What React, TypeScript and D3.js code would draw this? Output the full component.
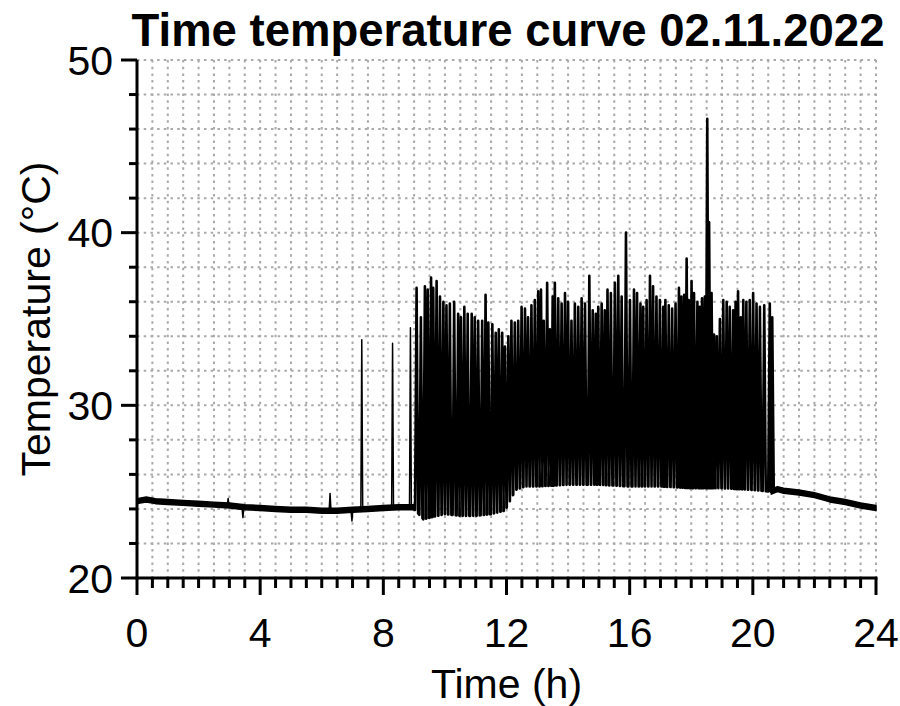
import React from "react";
import * as d3 from "d3";

// ---------- data ----------
const xTicks = [0, 4, 8, 12, 16, 20, 24];
const yTicks = [20, 30, 40, 50];
const titleText = "Time temperature curve 02.11.2022";
const xLabel = "Time (h)";
const yLabel = "Temperature (°C)";

// quiet (non-cycling) periods: centre of the noisy band
const quietPreTimes = [0, 0.3, 0.6, 1, 1.5, 2, 2.5, 3, 3.5, 4, 4.5, 5, 5.5, 6, 6.5, 7, 7.5, 8, 8.5, 9.0];
const quietPreTemps = [24.45, 24.55, 24.45, 24.4, 24.35, 24.3, 24.25, 24.2, 24.1, 24.05, 24.0, 23.95, 23.95, 23.9, 23.9, 23.95, 24.0, 24.05, 24.1, 24.1];
const quietPostTimes = [20.6, 20.8, 21, 21.5, 22, 22.5, 23, 23.5, 24];
const quietPostTemps = [25.0, 25.15, 25.05, 24.95, 24.8, 24.55, 24.4, 24.2, 24.05];

// isolated events in the quiet morning
const eventTimes = [2.96, 3.44, 6.27, 6.98, 7.3, 8.3, 8.88];
const eventTemps = [24.6, 23.5, 24.9, 23.3, 33.8, 33.6, 34.5];

// trough level during the cycling period
const activeBaseTimes = [9.0, 9.3, 10, 10.5, 11, 11.5, 11.95, 12.3, 12.6, 13, 14, 15, 16, 17, 18, 19, 20, 20.6];
const activeBaseTemps = [24.0, 23.4, 23.7, 23.6, 23.6, 23.7, 23.9, 25.1, 25.3, 25.3, 25.4, 25.4, 25.3, 25.3, 25.2, 25.2, 25.1, 25.0];

// peaks of the cycling period
const spikeTimes = [
  9.08, 9.22, 9.35, 9.44, 9.55, 9.62, 9.73, 9.84, 9.95, 10.05, 10.16, 10.30, 10.43, 10.52, 10.63, 10.74, 10.87, 10.97,
  11.08, 11.21, 11.32, 11.41, 11.54, 11.65, 11.75, 11.86, 11.95, 12.06, 12.16, 12.27, 12.38, 12.49, 12.60, 12.70, 12.81,
  12.92, 13.03, 13.12, 13.21, 13.32, 13.41, 13.50, 13.57, 13.68, 13.79, 13.90, 14.00, 14.11, 14.22, 14.33, 14.44, 14.55,
  14.69, 14.80, 14.90, 14.98, 15.09, 15.19, 15.28, 15.39, 15.52, 15.63, 15.74, 15.88, 16.01, 16.14, 16.24, 16.35, 16.44,
  16.55, 16.66, 16.76, 16.87, 16.98, 17.09, 17.16, 17.27, 17.38, 17.49, 17.60, 17.68, 17.77, 17.85, 17.92, 18.01, 18.09,
  18.20, 18.28, 18.35, 18.44, 18.52, 18.58, 18.66, 18.74, 18.83, 18.93, 19.04, 19.15, 19.25, 19.36, 19.44, 19.52, 19.61,
  19.69, 19.79, 19.90, 20.01, 20.12, 20.23, 20.37, 20.55, 20.63,
];
const spikeTemps = [
  36.8, 35.1, 36.9, 36.7, 37.4, 36.8, 37.2, 36.3, 36.0, 35.8, 35.9, 36.0, 35.3, 35.1, 35.7, 35.3, 35.3, 35.1,
  34.9, 34.9, 36.4, 34.8, 34.7, 34.2, 34.4, 34.2, 33.4, 34.0, 34.9, 34.8, 34.9, 35.7, 35.6, 35.1, 35.8,
  36.1, 36.6, 36.7, 34.9, 37.1, 34.4, 36.3, 37.1, 36.2, 35.9, 36.5, 36.0, 34.9, 35.9, 35.7, 36.2, 35.9,
  37.5, 35.5, 35.3, 35.7, 35.9, 35.5, 36.7, 36.5, 37.1, 37.5, 36.3, 40.0, 36.1, 36.7, 36.5, 35.9, 35.7,
  36.1, 37.5, 36.9, 36.3, 36.1, 35.7, 36.1, 35.8, 35.6, 35.9, 36.8, 36.3, 36.4, 38.5, 36.1, 37.2, 36.5,
  36.0, 35.7, 36.2, 36.3, 46.6, 40.6, 36.5, 34.1, 34.0, 35.0, 36.1, 36.0, 35.7, 35.5, 36.0, 36.6, 35.1,
  36.1, 36.0, 36.1, 36.5, 35.9, 35.7, 35.8, 35.9, 35.1,
];

// ---------- layout ----------
const W = 900;
const H = 706;
const m = { left: 137, right: 24, top: 60, bottom: 128 };
const FONT = "'Liberation Sans', Arial, Helvetica, sans-serif";

export default function App() {
  const x = d3.scaleLinear().domain([0, 24]).range([m.left, W - m.right]);
  const y = d3.scaleLinear().domain([20, 50]).range([H - m.bottom, m.top]);

  const preBase = d3.scaleLinear().domain(quietPreTimes).range(quietPreTemps).clamp(true);
  const activeBase = d3.scaleLinear().domain(activeBaseTimes).range(activeBaseTemps).clamp(true);

  const band = 0.14;
  const area = d3
    .area<[number, number]>()
    .x((d) => x(d[0]))
    .y0((d) => y(d[1] - band))
    .y1((d) => y(d[1] + band));
  const preBand = area(quietPreTimes.map((t, i) => [t, quietPreTemps[i]] as [number, number]));
  const postBand = area(quietPostTimes.map((t, i) => [t, quietPostTemps[i]] as [number, number]));

  const line = d3
    .line<[number, number]>()
    .x((d) => x(d[0]))
    .y((d) => y(d[1]));

  // isolated events
  const eventPaths = eventTimes.map((t, i) => {
    const hw = 0.03;
    return line([
      [t - hw, preBase(t - hw)],
      [t, eventTemps[i]],
      [t + hw, preBase(t + hw)],
    ]);
  });

  // cycling period
  const hw = 0.05;
  const pts: [number, number][] = [[8.97, activeBase(9.0)]];
  spikeTimes.forEach((t, i) => {
    pts.push([t - hw, activeBase(t - hw)]);
    pts.push([t, spikeTemps[i]]);
    pts.push([t + hw, activeBase(t + hw)]);
  });
  pts.push([20.62, activeBase(20.6)]);
  const activePath = line(pts);

  const xGrid = d3.range(0.5, 24.001, 0.5);
  const yGrid = d3.range(22, 50.001, 2);
  const xMinor = d3.range(0, 24.001, 0.5);
  const yMinor = d3.range(20, 50.001, 2);
  const x0 = x(0);
  const yB = y(20);

  return (
    <svg
      width={W}
      height={H}
      style={{ position: "absolute", left: 0, top: 0, background: "#fff" }}
      fontFamily={FONT}
    >
      <rect x={0} y={0} width={W} height={H} fill="#fff" />
      {/* grid */}
      <g stroke="#a9a9a9" strokeWidth={2} strokeDasharray="2.5,4.2">
        {xGrid.map((v) => (
          <line key={"gx" + v} x1={x(v)} x2={x(v)} y1={y(50)} y2={yB} />
        ))}
        {yGrid.map((v) => (
          <line key={"gy" + v} x1={x0} x2={x(24)} y1={y(v)} y2={y(v)} />
        ))}
      </g>

      {/* data */}
      <g fill="none" stroke="#000" strokeLinejoin="round">
        <path d={preBand || ""} fill="#000" strokeWidth={1.6} />
        <path d={postBand || ""} fill="#000" strokeWidth={1.6} />
        {eventPaths.map((d, i) => (
          <path key={"ev" + i} d={d || ""} strokeWidth={1.5} />
        ))}
        <path d={activePath || ""} strokeWidth={2.6} />
      </g>

      {/* axes */}
      <g stroke="#000" strokeWidth={3}>
        <line x1={x0} x2={x0} y1={y(50)} y2={yB + 1.5} />
        <line x1={x0 - 1.5} x2={x(24) + 1.5} y1={yB} y2={yB} />
        {xMinor.map((v) => (
          <line key={"tx" + v} x1={x(v)} x2={x(v)} y1={yB} y2={yB + (v % 4 === 0 ? 17 : 10)} />
        ))}
        {yMinor.map((v) => (
          <line key={"ty" + v} x1={x0} x2={x0 - (v % 10 === 0 ? 16 : 8)} y1={y(v)} y2={y(v)} />
        ))}
      </g>

      {/* tick labels */}
      <g fontSize={41} fill="#000">
        {xTicks.map((v) => (
          <text key={"lx" + v} x={x(v)} y={647} textAnchor="middle">
            {v}
          </text>
        ))}
        {yTicks.map((v) => (
          <text key={"ly" + v} x={113} y={y(v)} dy="0.36em" textAnchor="end">
            {v}
          </text>
        ))}
      </g>

      {/* labels */}
      <text x={(x(0) + x(24)) / 2} y={698} fontSize={41} textAnchor="middle">
        {xLabel}
      </text>
      <text
        transform={`translate(50, ${(y(20) + y(50)) / 2}) rotate(-90)`}
        fontSize={41}
        textAnchor="middle"
      >
        {yLabel}
      </text>
      <text x={508} y={46} fontSize={45.5} fontWeight="bold" textAnchor="middle">
        {titleText}
      </text>
    </svg>
  );
}
